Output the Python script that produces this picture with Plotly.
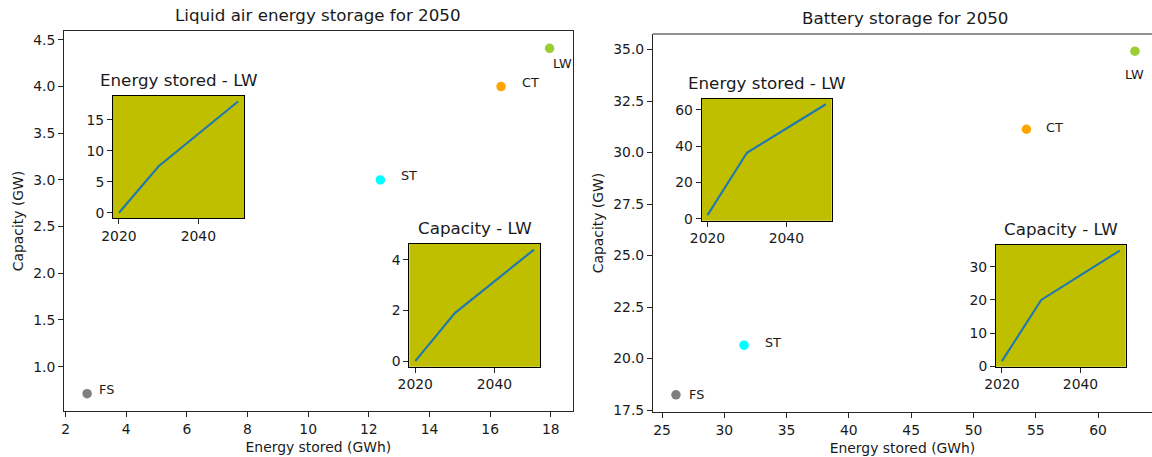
import plotly.graph_objects as go

# ---- data -------------------------------------------------------------
regions = ["FS", "ST", "CT", "LW"]
region_colors = ["grey", "cyan", "orange", "yellowgreen"]

laes_energy = [2.71, 12.38, 16.36, 17.96]      # GWh
laes_capacity = [0.71, 3.0, 4.0, 4.41]         # GW
batt_energy = [26.12, 31.59, 54.25, 62.96]     # GWh
batt_capacity = [18.24, 20.65, 31.13, 34.92]   # GW

years = [2020, 2030, 2050]
laes_lw_energy = [0.0, 7.5, 17.96]
laes_lw_capacity = [0.0, 1.9, 4.41]
batt_lw_energy = [2.0, 36.3, 62.96]
batt_lw_capacity = [1.5, 20.0, 34.92]

year_ticks = [2020, 2040]

# ---- layout helpers -----------------------------------------------------
W, H = 1152, 457
FONT = "DejaVu Sans"
TICK_SIZE = 13.9
TITLE_SIZE = 16.7
LABEL_SIZE = 12.8
INK = "#1a1a1a"
FRAME = "#262626"


def fx(p):
    return p / W


def fy(p):
    return 1 - p / H


def padded(vals, frac=0.05):
    lo, hi = min(vals), max(vals)
    m = (hi - lo) * frac
    return [lo - m, hi + m]


fig = go.Figure()


def base_axis(**kw):
    d = dict(
        showgrid=False, zeroline=False, showline=True, linecolor=FRAME,
        linewidth=1, ticks="outside", ticklen=5, tickwidth=1, tickcolor=FRAME,
        tickfont=dict(family=FONT, size=TICK_SIZE, color=INK),
        automargin=False,
    )
    d.update(kw)
    return d


# main scatter panels: (x px left, x px right, y px top, y px bottom)
main_boxes = [(64, 572.7, 31, 411), (653, 1157.9, 34, 412)]
main_sets = [(laes_energy, laes_capacity), (batt_energy, batt_capacity)]
main_titles = ["Liquid air energy storage for 2050", "Battery storage for 2050"]
ytick_steps = [0.5, 2.5]
xtick_steps = [2, 5]

# label offsets (px) from each dot: (dx, dy, anchor)
label_offsets = [
    [(9.4, -4.7, "left"), (18.6, -4.3, "left"), (19, -3.8, "left"), (1.1, 14.8, "left")],
    [(11.3, 0, "left"), (18.7, -2.2, "left"), (17.6, -1.5, "left"), (0, 23, "center")],
]

for i, ((x0, x1, y0, y1), (ex, cy)) in enumerate(zip(main_boxes, main_sets)):
    n = "" if i == 0 else str(i + 1)
    xr = padded(ex)
    yr = padded(cy)
    right_px = min(x1, W)
    # the battery panel runs past the right edge of the figure
    xr_vis = [xr[0], xr[0] + (xr[1] - xr[0]) * (right_px - x0) / (x1 - x0)]
    fig.add_trace(go.Scatter(
        x=ex, y=cy, mode="markers", xaxis="x" + n, yaxis="y" + n,
        marker=dict(size=9.5, color=region_colors, line=dict(width=0)),
        showlegend=False, hoverinfo="skip",
    ))
    for j, lab in enumerate(regions):
        dx, dy, anc = label_offsets[i][j]
        fig.add_annotation(
            x=ex[j], y=cy[j], xref="x" + n, yref="y" + n, text=lab,
            showarrow=False, xanchor=anc, yanchor="middle",
            xshift=dx, yshift=-dy,
            font=dict(family=FONT, size=LABEL_SIZE, color=INK),
        )
    fig.update_layout(**{
        "xaxis" + n: base_axis(
            domain=[fx(x0), fx(right_px)], range=xr_vis, anchor="y" + n,
            dtick=xtick_steps[i], mirror=(i == 0),
            title=dict(text="Energy stored (GWh)", standoff=6,
                       font=dict(family=FONT, size=TICK_SIZE, color=INK)),
        ),
        "yaxis" + n: base_axis(
            domain=[fy(y1), fy(y0)], range=yr, anchor="x" + n,
            dtick=ytick_steps[i], tickformat=".1f", mirror=(i == 0),
            title=dict(text="Capacity (GW)", standoff=6,
                       font=dict(family=FONT, size=TICK_SIZE, color=INK)),
        ),
    })
    fig.add_annotation(
        x=fx((x0 + x1) / 2), y=fy(y0 - 4), xref="paper", yref="paper",
        text=main_titles[i], showarrow=False, xanchor="center", yanchor="bottom",
        font=dict(family=FONT, size=TITLE_SIZE, color=INK),
    )
    if i == 1:
        fig.add_shape(type="line", xref="paper", yref="paper",
                      x0=fx(x0), x1=1, y0=fy(y0), y1=fy(y0),
                      line=dict(color=FRAME, width=1))

# inset line charts
inset_boxes = [
    (113, 244, 96, 218.3),
    (409.3, 540, 244, 366.7),
    (701.6, 831.7, 98.7, 220.7),
    (996, 1125.7, 245, 366.7),
]
inset_series = [laes_lw_energy, laes_lw_capacity, batt_lw_energy, batt_lw_capacity]
inset_titles = ["Energy stored - LW", "Capacity - LW", "Energy stored - LW", "Capacity - LW"]
inset_steps = [5, 2, 20, 10]

for k, ((x0, x1, y0, y1), ser) in enumerate(zip(inset_boxes, inset_series)):
    n = str(k + 3)
    fig.add_shape(type="rect", xref="paper", yref="paper",
                  x0=fx(x0), x1=fx(x1), y0=fy(y1), y1=fy(y0),
                  fillcolor="#bfbf00", line=dict(width=0), layer="below")
    fig.add_trace(go.Scatter(
        x=years, y=ser, mode="lines", xaxis="x" + n, yaxis="y" + n,
        line=dict(color="#1f77b4", width=2.1), showlegend=False, hoverinfo="skip",
    ))
    fig.update_layout(**{
        "xaxis" + n: base_axis(
            domain=[fx(x0), fx(x1)], range=padded(years), anchor="y" + n,
            tickvals=year_ticks, mirror=True, linecolor="black",
        ),
        "yaxis" + n: base_axis(
            domain=[fy(y1), fy(y0)], range=padded(ser), anchor="x" + n,
            dtick=inset_steps[k], mirror=True, linecolor="black",
        ),
    })
    fig.add_annotation(
        x=fx((x0 + x1) / 2), y=fy(y0 - 4), xref="paper", yref="paper",
        text=inset_titles[k], showarrow=False, xanchor="center", yanchor="bottom",
        font=dict(family=FONT, size=TITLE_SIZE, color=INK),
    )

fig.update_layout(
    width=W, height=H, margin=dict(l=0, r=0, t=0, b=0),
    paper_bgcolor="white", plot_bgcolor="rgba(0,0,0,0)",
    font=dict(family=FONT, color=INK),
)

fig.write_html("out.html")
